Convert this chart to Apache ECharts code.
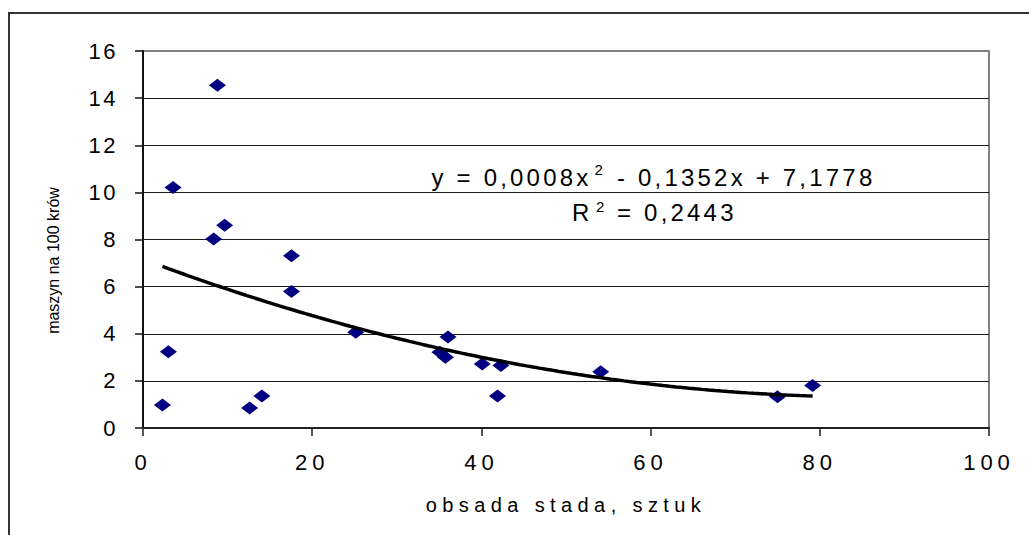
<!DOCTYPE html>
<html>
<head>
<meta charset="utf-8">
<script src="https://cdn.jsdelivr.net/npm/echarts@6/dist/echarts.min.js"></script>
<style>
html,body{margin:0;padding:0;background:#fff;}
#chart{width:1029px;height:535px;}
</style>
</head>
<body>
<div id="chart"></div>
<script>
// ---- data ----
const herdSize = [2.3, 3.0, 3.55, 8.8, 8.35, 9.65, 12.6, 14.05, 17.55, 17.55, 25.15, 36.05, 35.1, 35.75, 40.1, 42.3, 41.9, 54.1, 75.0, 79.15];
const machinesPer100 = [0.98, 3.24, 10.21, 14.55, 8.02, 8.6, 0.85, 1.36, 7.31, 5.79, 4.06, 3.86, 3.22, 3.0, 2.72, 2.65, 1.36, 2.39, 1.33, 1.8];
const xTicks = [0, 20, 40, 60, 80, 100];
const yTicks = [0, 2, 4, 6, 8, 10, 12, 14, 16];
const xAxisName = 'obsada stada, sztuk';
const yAxisName = 'maszyn na 100 krów';
const eqLine1a = 'y = 0,0008x';
const eqLine1b = '- 0,1352x + 7,1778';
const eqLine2a = 'R';
const eqLine2b = '= 0,2443';
const supText = '2';

// ---- quadratic least-squares trend (from the data) ----
function quadFit(xs, ys) {
  const S = [0,0,0,0,0], T = [0,0,0];
  for (let i = 0; i < xs.length; i++) {
    let p = 1;
    for (let k = 0; k < 5; k++) { S[k] += p; if (k < 3) T[k] += p * ys[i]; p *= xs[i]; }
  }
  const A = [[S[4],S[3],S[2],T[2]],[S[3],S[2],S[1],T[1]],[S[2],S[1],S[0],T[0]]];
  for (let c = 0; c < 3; c++) {
    for (let r = c + 1; r < 3; r++) {
      const f = A[r][c] / A[c][c];
      for (let k = c; k < 4; k++) A[r][k] -= f * A[c][k];
    }
  }
  const sol = [0,0,0];
  for (let r = 2; r >= 0; r--) {
    let s = A[r][3];
    for (let k = r + 1; k < 3; k++) s -= A[r][k] * sol[k];
    sol[r] = s / A[r][r];
  }
  return sol; // a, b, c
}
const coef = quadFit(herdSize, machinesPer100);
const xMin = Math.min(...herdSize), xMax = Math.max(...herdSize);
const trend = [];
for (let i = 0; i <= 100; i++) {
  const x = xMin + (xMax - xMin) * i / 100;
  trend.push([x, coef[0]*x*x + coef[1]*x + coef[2]]);
}
const points = herdSize.map((x, i) => [x, machinesPer100[i]]);

const FONT = "'Liberation Sans', Arial, sans-serif";
const chart = echarts.init(document.getElementById('chart'), null, {renderer: 'svg'});
chart.setOption({
  animation: false,
  backgroundColor: '#fff',
  grid: {left: 143, right: 40, top: 51, bottom: 107, show: true, borderColor: '#808080', borderWidth: 2, backgroundColor: 'transparent'},
  xAxis: {
    type: 'value', min: xTicks[0], max: xTicks[xTicks.length-1], interval: 20,
    axisLine: {show: true, onZero: false, lineStyle: {color: '#222', width: 2}},
    axisTick: {show: true, length: 8, lineStyle: {color: '#222', width: 1.5}},
    axisLabel: {fontSize: 22, color: '#000', margin: 23, fontFamily: FONT},
    splitLine: {show: false},
    name: xAxisName, nameLocation: 'middle', nameGap: 67,
    nameTextStyle: {fontSize: 20, color: '#000', fontFamily: FONT}
  },
  yAxis: {
    type: 'value', min: yTicks[0], max: yTicks[yTicks.length-1], interval: 2,
    axisLine: {show: true, onZero: false, lineStyle: {color: '#111', width: 2}},
    axisTick: {show: true, length: 8, lineStyle: {color: '#111', width: 1.5}},
    axisLabel: {fontSize: 22, color: '#000', margin: 25, fontFamily: FONT},
    splitLine: {show: true, showMaxLine: false, showMinLine: false, lineStyle: {color: '#1a1a1a', width: 1}},
    name: yAxisName, nameLocation: 'middle', nameGap: 82,
    nameTextStyle: {fontSize: 16, color: '#000', fontFamily: FONT, padding: [0, 42, 0, 0]}
  },
  graphic: [
    {type: 'rect', silent: true, shape: {x: 9, y: 13, width: 1100, height: 700}, style: {fill: 'none', stroke: '#333', lineWidth: 2}},
    {type: 'text', silent: true, x: 431.5, y: 177.7, style: {text: eqLine1a, fontSize: 24, fontFamily: FONT, fill: '#000', align: 'left', verticalAlign: 'middle'}},
    {type: 'text', silent: true, x: 594.5, y: 169.8, style: {text: supText, fontSize: 15, fontFamily: FONT, fill: '#000', align: 'left', verticalAlign: 'middle'}},
    {type: 'text', silent: true, x: 617, y: 177.7, style: {text: eqLine1b, fontSize: 24, fontFamily: FONT, fill: '#000', align: 'left', verticalAlign: 'middle'}},
    {type: 'text', silent: true, x: 572, y: 212.4, style: {text: eqLine2a, fontSize: 24, fontFamily: FONT, fill: '#000', align: 'left', verticalAlign: 'middle'}},
    {type: 'text', silent: true, x: 596, y: 206.5, style: {text: supText, fontSize: 15, fontFamily: FONT, fill: '#000', align: 'left', verticalAlign: 'middle'}},
    {type: 'text', silent: true, x: 617, y: 212.4, style: {text: eqLine2b, fontSize: 24, fontFamily: FONT, fill: '#000', align: 'left', verticalAlign: 'middle'}}
  ],
  series: [
    {type: 'scatter', data: points, symbol: 'diamond', symbolSize: [17, 13], itemStyle: {color: '#000080', opacity: 1}, z: 3, silent: true},
    {type: 'line', data: trend, showSymbol: false, symbol: 'none', smooth: false, lineStyle: {color: '#000', width: 3.5}, z: 4, silent: true}
  ]
});

function applySpacing() {
  document.querySelectorAll('#chart svg text').forEach(t => {
    const s = t.textContent;
    const anchor = t.getAttribute('text-anchor') || 'start';
    let ls = 3.2;
    if (s === yAxisName) ls = 0;
    else if (s === xAxisName) ls = 5.4;
    else if (/^\d+$/.test(s)) ls = anchor === 'end' ? 2.5 : (anchor === 'middle' ? 5 : 0);
    t.setAttribute('letter-spacing', ls + 'px');
  });
}
chart.on('finished', applySpacing);
applySpacing();
setTimeout(applySpacing, 0);
setTimeout(applySpacing, 50);
setTimeout(applySpacing, 200);
</script>
</body>
</html>
